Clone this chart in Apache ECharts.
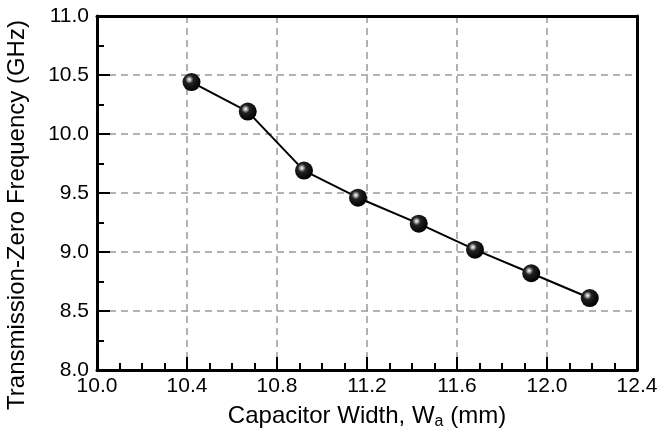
<!DOCTYPE html>
<html>
<head>
<meta charset="utf-8">
<script src="https://cdn.jsdelivr.net/npm/echarts@6/dist/echarts.min.js"></script>
<style>
  html, body { margin: 0; padding: 0; background: #fff; }
  #chart { width: 664px; height: 435px; }
</style>
</head>
<body>
<div id="chart"></div>
<script>
// capacitor width (mm) vs transmission-zero frequency (GHz)
var widths = [10.42, 10.67, 10.92, 11.16, 11.43, 11.68, 11.93, 12.19];
var freqs = [10.44, 10.19, 9.69, 9.46, 9.24, 9.02, 8.82, 8.61];

var xTitle = 'Capacitor Width, W{sub|a} (mm)';
var yTitle = 'Transmission-Zero Frequency (GHz)';

var font = 'Liberation Sans, Arial, sans-serif';

var points = [];
for (var i = 0; i < widths.length; i++) {
  points.push([widths[i], freqs[i]]);
}

var gridDash = { color: '#999', width: 1.5, type: [7, 5] };

var chart = echarts.init(document.getElementById('chart'));
chart.setOption({
  animation: false,
  backgroundColor: '#fff',
  grid: {
    left: 97,
    right: 27,
    top: 16,
    bottom: 65,
    containLabel: false,
    outerBoundsMode: 'none'
  },
  xAxis: [{
    type: 'value',
    min: 10.0,
    max: 12.4,
    interval: 0.4,
    name: xTitle,
    nameLocation: 'middle',
    nameGap: 32,
    nameTextStyle: {
      fontFamily: font,
      fontSize: 24,
      lineHeight: 28,
      color: '#000',
      rich: {
        sub: { fontFamily: font, fontSize: 16, lineHeight: 16, verticalAlign: 'bottom', color: '#000' }
      }
    },
    axisLine: { show: true, lineStyle: { color: '#000', width: 3 } },
    axisTick: { show: true, inside: true, length: 13, lineStyle: { color: '#000', width: 2 } },
    minorTick: { show: true, splitNumber: 4, length: 7, lineStyle: { color: '#000', width: 2 } },
    axisLabel: {
      fontFamily: font,
      fontSize: 21,
      color: '#000',
      margin: 6,
      formatter: function (v) { return v.toFixed(1); }
    },
    splitLine: { show: true, showMinLine: false, showMaxLine: false, lineStyle: gridDash }
  }, {
    // top frame line
    type: 'value',
    position: 'top',
    min: 10.0,
    max: 12.4,
    z: 5,
    axisLine: { show: true, onZero: false, lineStyle: { color: '#000', width: 3 } },
    axisTick: { show: false },
    axisLabel: { show: false },
    splitLine: { show: false }
  }],
  yAxis: [{
    type: 'value',
    min: 8.0,
    max: 11.0,
    interval: 0.5,
    name: yTitle,
    nameLocation: 'middle',
    nameGap: 68,
    nameTextStyle: { fontFamily: font, fontSize: 24, color: '#000', padding: [0, 44, 0, 0] },
    axisLine: { show: true, lineStyle: { color: '#000', width: 3 } },
    axisTick: { show: true, inside: true, length: 13, lineStyle: { color: '#000', width: 2 } },
    minorTick: { show: true, splitNumber: 2, length: 7, lineStyle: { color: '#000', width: 2 } },
    axisLabel: {
      fontFamily: font,
      fontSize: 21,
      color: '#000',
      margin: 8,
      formatter: function (v) { return v.toFixed(1); }
    },
    splitLine: { show: true, showMinLine: false, showMaxLine: false, lineStyle: gridDash }
  }, {
    // right frame line
    type: 'value',
    position: 'right',
    min: 8.0,
    max: 11.0,
    z: 5,
    axisLine: { show: true, onZero: false, lineStyle: { color: '#000', width: 3 } },
    axisTick: { show: false },
    axisLabel: { show: false },
    splitLine: { show: false }
  }],
  series: [{
    type: 'line',
    data: points,
    symbol: 'circle',
    symbolSize: 18,
    z: 10,
    lineStyle: { color: '#000', width: 2 },
    itemStyle: {
      color: {
        type: 'radial',
        x: 0.38, y: 0.36, r: 0.65,
        colorStops: [
          { offset: 0, color: '#ffffff' },
          { offset: 0.12, color: '#bbbbbb' },
          { offset: 0.35, color: '#222222' },
          { offset: 1, color: '#000000' }
        ]
      },
      borderWidth: 0
    }
  }]
});
</script>
</body>
</html>
